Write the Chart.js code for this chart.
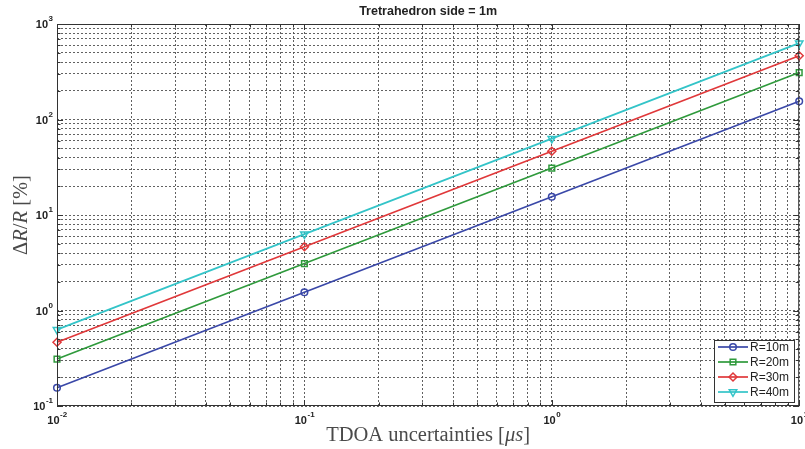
<!DOCTYPE html>
<html><head><meta charset="utf-8">
<script src="https://cdn.jsdelivr.net/npm/chart.js@4.4.1/dist/chart.umd.min.js"></script>
<style>html,body{margin:0;padding:0;background:#fff;overflow:hidden}#wrap{width:805px;height:449px;position:relative}</style>
</head><body><div id="wrap"><canvas id="c" width="805" height="449"></canvas></div>
<script>
const chartTitle = 'Tretrahedron side = 1m';
const xValues = [0.01, 0.1, 1, 10];
const seriesLabels = ['R=10m', 'R=20m', 'R=30m', 'R=40m'];
const r10 = [0.155, 1.55, 15.5, 155];
const r20 = [0.31, 3.1, 31, 310];
const r30 = [0.465, 4.65, 46.5, 465];
const r40 = [0.63, 6.3, 63, 630];
const seriesColors = ['#3a48a8', '#2f9a3c', '#e0383a', '#33c4c8'];
const xTickValues = [0.01, 0.1, 1, 10];
const xTickExponents = ['-2', '-1', '0', '1'];
const yTickValues = [0.1, 1, 10, 100, 1000];
const yTickExponents = ['-1', '0', '1', '2', '3'];
const xTitleParts = [['TDOA uncertainties ', ''], ['[', ''], ['\u03bcs', 'italic '], [']', '']];
const yTitleParts = [['\u0394', ''], ['R', 'italic '], ['/', ''], ['R', 'italic '], [' [%]', '']];

function logTicks(min, max) {
  const out = [];
  for (let e = Math.floor(Math.log10(min)); e <= Math.ceil(Math.log10(max)); e++) {
    for (let m = 1; m <= 9; m++) {
      const v = Number((m * Math.pow(10, e)).toPrecision(6));
      if (v >= min * 0.9999 && v <= max * 1.0001) out.push({ value: v, major: m === 1 });
    }
  }
  return out;
}

const styles = [
  { pointStyle: 'circle', radius: 3.3, rot: 0 },
  { pointStyle: 'rect', radius: 4, rot: 0 },
  { pointStyle: 'rectRot', radius: 4, rot: 0 },
  { pointStyle: 'triangle', radius: 4.3, rot: 180 }
];
const allSeries = [r10, r20, r30, r40];
const datasets = allSeries.map((s, i) => ({
  label: seriesLabels[i],
  data: xValues.map((x, j) => ({ x: x, y: s[j] })),
  borderColor: seriesColors[i],
  borderWidth: 1.7,
  pointStyle: styles[i].pointStyle,
  pointRadius: styles[i].radius,
  pointRotation: styles[i].rot,
  pointBorderWidth: 1.5,
  pointBorderColor: seriesColors[i],
  pointBackgroundColor: 'rgba(0,0,0,0)',
  tension: 0,
  clip: false
}));

function drawParts(ctx, parts, size, cx, cy) {
  let total = 0;
  parts.forEach(p => { ctx.font = p[1] + size + 'px "Liberation Serif", "DejaVu Serif", serif'; total += ctx.measureText(p[0]).width; });
  let x = cx - total / 2;
  ctx.textBaseline = 'middle';
  ctx.textAlign = 'left';
  parts.forEach(p => { ctx.font = p[1] + size + 'px "Liberation Serif", "DejaVu Serif", serif'; ctx.fillText(p[0], x, cy); x += ctx.measureText(p[0]).width; });
}

function drawMarker(ctx, idx, x, y) {
  const st = styles[idx];
  ctx.save();
  ctx.strokeStyle = seriesColors[idx];
  ctx.lineWidth = 1.5;
  ctx.fillStyle = 'rgba(0,0,0,0)';
  if (Chart.helpers && Chart.helpers.drawPoint) {
    Chart.helpers.drawPoint(ctx, { pointStyle: st.pointStyle, rotation: st.rot, radius: st.radius, borderWidth: 1.5 }, x, y);
  }
  ctx.restore();
}

const decor = {
  id: 'decor',
  afterDraw(chart) {
    const ctx = chart.ctx;
    const a = chart.chartArea;
    const xs = chart.scales.x, ys = chart.scales.y;
    ctx.save();
    ctx.strokeStyle = '#333';
    ctx.lineWidth = 1;
    ctx.setLineDash([]);
    ctx.strokeRect(a.left + 0.5, a.top + 0.5, a.right - a.left - 1, a.bottom - a.top - 1);
    ctx.beginPath();
    xs.ticks.forEach(t => {
      const px = Math.round(xs.getPixelForValue(t.value)) + 0.5;
      const len = t.major ? 6 : 3.5;
      ctx.moveTo(px, a.bottom); ctx.lineTo(px, a.bottom - len);
      ctx.moveTo(px, a.top); ctx.lineTo(px, a.top + len);
    });
    ys.ticks.forEach(t => {
      const py = Math.round(ys.getPixelForValue(t.value)) + 0.5;
      const len = t.major ? 6 : 3.5;
      ctx.moveTo(a.left, py); ctx.lineTo(a.left + len, py);
      ctx.moveTo(a.right, py); ctx.lineTo(a.right - len, py);
    });
    ctx.stroke();
    ctx.fillStyle = '#222';
    const baseFont = 'bold 11px "Liberation Sans", Arial, sans-serif';
    const expFont = 'bold 8px "Liberation Sans", Arial, sans-serif';
    ctx.textBaseline = 'middle';
    xTickValues.forEach((v, i) => {
      const px = xs.getPixelForValue(v);
      ctx.font = baseFont; const w1 = ctx.measureText('10').width;
      ctx.font = expFont; const w2 = ctx.measureText(xTickExponents[i]).width;
      const x0 = px - (w1 + w2) / 2;
      ctx.textAlign = 'left';
      ctx.font = baseFont; ctx.fillText('10', x0, a.bottom + 15);
      ctx.font = expFont; ctx.fillText(xTickExponents[i], x0 + w1 + 0.5, a.bottom + 9);
    });
    yTickValues.forEach((v, i) => {
      const py = ys.getPixelForValue(v);
      ctx.font = expFont; const w2 = ctx.measureText(yTickExponents[i]).width;
      ctx.font = baseFont; const w1 = ctx.measureText('10').width;
      const xEnd = a.left - 4;
      ctx.textAlign = 'left';
      ctx.font = baseFont; ctx.fillText('10', xEnd - w2 - w1 - 0.5, py + 1);
      ctx.font = expFont; ctx.fillText(yTickExponents[i], xEnd - w2, py - 5);
    });
    ctx.font = 'bold 12.5px "Liberation Sans", Arial, sans-serif';
    ctx.textAlign = 'center';
    ctx.fillStyle = '#222';
    ctx.fillText(chartTitle, (a.left + a.right) / 2, 12);
    ctx.fillStyle = '#4a4a4a';
    drawParts(ctx, xTitleParts, 20.5, (a.left + a.right) / 2, 436);
    ctx.save();
    ctx.translate(22, (a.top + a.bottom) / 2);
    ctx.rotate(-Math.PI / 2);
    drawParts(ctx, yTitleParts, 20.5, 0, 0);
    ctx.restore();
    const lx = 714, ly = 340, lw = 80, lh = 62;
    ctx.fillStyle = '#fff';
    ctx.fillRect(lx, ly, lw, lh);
    ctx.strokeStyle = '#333';
    ctx.lineWidth = 1;
    ctx.strokeRect(lx + 0.5, ly + 0.5, lw, lh);
    seriesLabels.forEach((lab, i) => {
      const y = ly + 7 + i * 15;
      ctx.strokeStyle = seriesColors[i];
      ctx.lineWidth = 1.7;
      ctx.beginPath(); ctx.moveTo(lx + 4, y); ctx.lineTo(lx + 34, y); ctx.stroke();
      drawMarker(ctx, i, lx + 19, y);
      ctx.fillStyle = '#222';
      ctx.font = '12px "Liberation Sans", Arial, sans-serif';
      ctx.textAlign = 'left';
      ctx.textBaseline = 'middle';
      ctx.fillText(lab, lx + 36, y + 0.5);
    });
    ctx.restore();
  }
};

const gridCommon = { color: '#505050', lineWidth: 0.9, drawTicks: false };
new Chart(document.getElementById('c'), {
  type: 'line',
  data: { datasets: datasets },
  options: {
    responsive: false,
    devicePixelRatio: 1,
    animation: false,
    layout: { padding: { left: 57, top: 24, right: 5, bottom: 43 } },
    plugins: { legend: { display: false }, title: { display: false }, tooltip: { enabled: false } },
    scales: {
      x: {
        type: 'logarithmic', min: 0.01, max: 10,
        ticks: { display: false },
        grid: gridCommon,
        border: { display: false, dash: [2, 2] },
        afterBuildTicks: s => { s.ticks = logTicks(0.01, 10); }
      },
      y: {
        type: 'logarithmic', min: 0.1, max: 1000,
        ticks: { display: false },
        grid: gridCommon,
        border: { display: false, dash: [2, 2] },
        afterBuildTicks: s => { s.ticks = logTicks(0.1, 1000); }
      }
    }
  },
  plugins: [decor]
});
</script></body></html>
